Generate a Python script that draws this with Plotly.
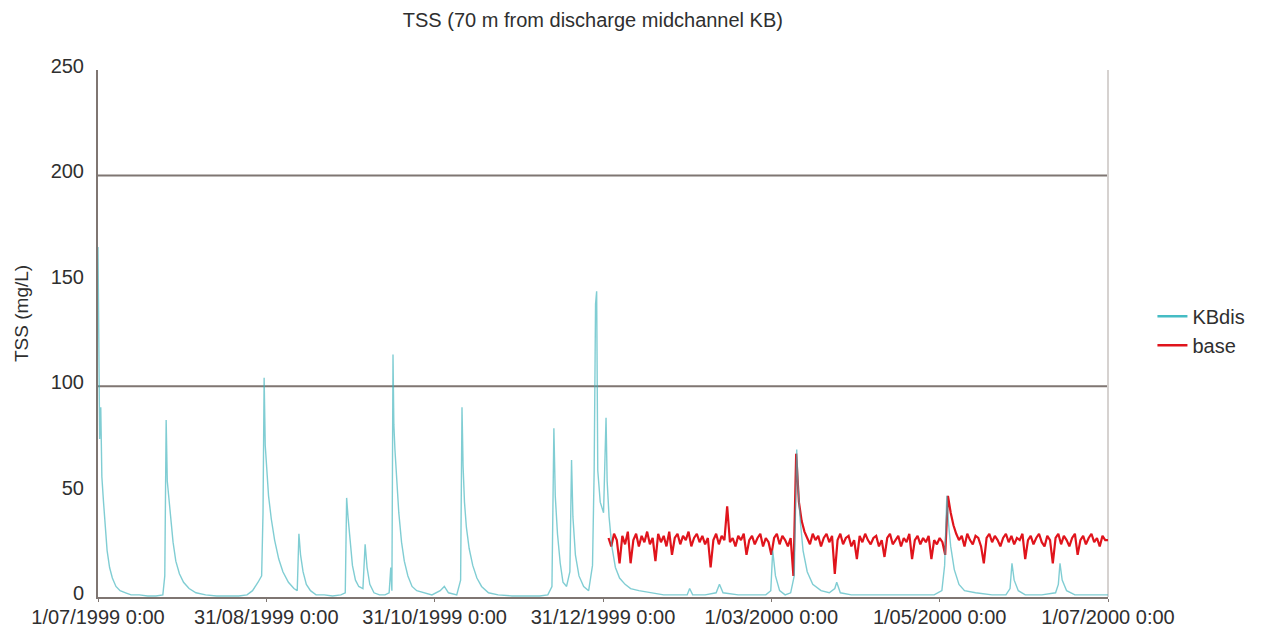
import pandas as pd
import plotly.graph_objects as go

START = "1999-07-01"

# KBdis series: day offsets from 1 July 1999 and TSS values (mg/L)
kb_days = [0, 0.3, 0.6, 1.0, 1.4, 2.0, 2.6, 3.3, 4.2, 5.2, 6.5, 8, 10, 12, 15, 18, 21, 23.5,
           24.2, 24.7, 25.1, 25.6, 26.3, 27.2, 28.2, 29.5, 31, 33, 35.5, 39, 43, 47, 51, 54,
           56, 58, 59.3, 59.8, 60.2, 60.6, 61.1, 61.8, 62.8, 64, 65.5, 67, 69, 71, 72.2,
           72.8, 73.4, 74.3, 75.5, 77, 79, 82, 85, 88, 89.6,
           90.1, 90.6, 91.3, 92.2, 93.3, 94.5, 96, 96.8, 97.5, 98.5, 100, 102, 104, 105.5, 106.1, 106.5,
           106.9, 107.2, 107.6, 108.3, 109, 110, 111, 112.3, 113.8, 115.5, 118, 121, 124, 125.5, 127, 130, 131.4,
           131.9, 132.3, 132.8, 133.5, 134.5, 135.8, 137.3, 139, 141.5, 145, 150, 155, 160, 163, 164.5,
           165.2, 165.7, 166.5, 167.5, 168.5, 169.8, 171, 171.6, 172.1, 173, 174.3, 176, 177.8, 179.2, 179.8,
           180.3, 180.7, 181.1, 182, 183.2, 184.1, 184.5, 185.2, 186.2, 187.5, 189, 191, 193, 196, 200, 205, 210,
           213.5, 214.4, 215.5, 220, 224, 225.2, 226.5, 232, 238, 242, 243.8, 244.5, 245.5, 247, 249, 251, 252.3,
           253.2, 253.7, 254.5, 255.5, 257, 259, 262, 265, 267, 267.7, 269, 273, 280, 290, 298, 303, 305.8, 306.8,
           307.6, 308.2, 309, 310.3, 312, 314, 318, 324, 329, 330.5, 331.2, 332, 333.5, 336, 342, 347, 348, 348.6,
           349.4, 351, 354, 360, 366]
kb_values = [166, 110, 75, 90, 57, 45, 33, 22, 14, 9, 5, 3, 2, 1, 1, 0.5, 0.5, 1,
             10, 84, 55, 48, 38, 26, 17, 11, 7, 4, 2, 1, 0.5, 0.5, 0.5, 1,
             3, 7, 10, 40, 104, 72, 60, 48, 37, 27, 18, 12, 7, 4, 3,
             30, 20, 12, 6, 3, 1, 1, 0.5, 1, 2,
             47, 38, 26, 15, 8, 5, 4, 25, 14, 6, 2, 1, 1, 2, 14, 3,
             115, 82, 70, 55, 40, 26, 17, 10, 5, 3, 2, 1, 3, 5, 2, 1, 8,
             90, 62, 45, 33, 23, 15, 9, 5, 2, 1, 0.5, 0.5, 0.5, 1, 5,
             80, 48, 30, 16, 7, 5, 12, 65, 38, 20, 10, 5, 3, 15, 60,
             139, 145, 60, 45, 40, 85, 55, 38, 24, 14, 9, 6, 4, 3, 2, 1, 1,
             1, 4, 1, 1, 2, 6, 2, 1, 1, 1, 3, 22, 10, 3, 1, 2, 10,
             70, 52, 36, 22, 12, 6, 3, 2, 4, 7, 2, 1, 1, 1, 1, 1, 3, 15,
             48, 35, 24, 13, 6, 3, 2, 1, 1, 4, 16, 8, 3, 1, 1, 2, 6, 16,
             8, 3, 1, 1, 1]

# base series: daily values from 2 Jan 2000 to 1 Jul 2000
base_start = "2000-01-02"
base_values = [28, 24, 30, 27, 16, 29, 25, 31, 16, 27,
               30, 24, 29, 26, 31, 25, 28, 17, 30, 26,
               29, 24, 31, 20, 28, 30, 25, 29, 27, 31,
               24, 28, 30, 26, 29, 25, 28, 14, 27, 30,
               25, 29, 27, 43, 26, 28, 24, 29, 27, 30,
               20, 27, 29, 25, 28, 30, 24, 28, 26, 20,
               28, 30, 25, 29, 27, 24, 28, 10, 68, 45,
               36, 31, 28, 25, 30, 27, 29, 24, 28, 30,
               26, 29, 11, 27, 30, 25, 28, 29, 24, 27,
               18, 29, 26, 30, 27, 25, 28, 29, 24, 27,
               19, 28, 30, 25, 27, 29, 24, 28, 26, 30,
               18, 27, 29, 25, 28, 26, 29, 18, 27, 25,
               28, 26, 20, 48, 40, 34, 30, 27, 29, 24,
               30, 27, 25, 29, 28, 24, 16, 28, 30, 26,
               29, 27, 24, 28, 30, 26, 29, 25, 28, 27,
               30, 18, 27, 29, 25, 28, 30, 26, 24, 29,
               27, 16, 28, 30, 25, 29, 27, 24, 28, 30,
               20, 27, 29, 25, 28, 30, 26, 28, 24, 29,
               27, 27]

tick_dates = ["1999-07-01", "1999-08-31", "1999-10-31", "1999-12-31",
              "2000-03-01", "2000-05-01", "2000-07-01"]
tick_labels = ["1/07/1999 0:00", "31/08/1999 0:00", "31/10/1999 0:00", "31/12/1999 0:00",
               "1/03/2000 0:00", "1/05/2000 0:00", "1/07/2000 0:00"]
y_ticks = [0, 50, 100, 150, 200, 250]
grid_values = [100, 200]

kb_x = pd.Timestamp(START) + pd.to_timedelta(kb_days, unit="D")
base_x = pd.date_range(base_start, periods=len(base_values), freq="D")

KB_COLOR = "#45bcc4"
BASE_COLOR = "#e0141c"
AXIS_COLOR = "#7f7672"
FONT = "Liberation Sans"
TEXT = "#2f2f2f"

fig = go.Figure()
fig.add_trace(go.Scatter(x=base_x, y=base_values, mode="lines",
                         line=dict(color=BASE_COLOR, width=2.2),
                         showlegend=False, hoverinfo="skip"))
fig.add_trace(go.Scatter(x=kb_x, y=kb_values, mode="lines",
                         line=dict(color="rgba(60,178,188,0.65)", width=1.4),
                         showlegend=False, hoverinfo="skip"))
# legend entries
fig.add_trace(go.Scatter(x=[None], y=[None], mode="lines", name="KBdis",
                         line=dict(color=KB_COLOR, width=2.5)))
fig.add_trace(go.Scatter(x=[None], y=[None], mode="lines", name="base",
                         line=dict(color=BASE_COLOR, width=2.5)))

for g in grid_values:
    fig.add_shape(type="line", xref="paper", x0=0, x1=1, yref="y", y0=g, y1=g,
                  line=dict(color=AXIS_COLOR, width=2), layer="below")
fig.add_shape(type="line", xref="paper", x0=1, x1=1, yref="paper", y0=0, y1=1,
              line=dict(color="#d6d2d0", width=2), layer="below")

fig.add_annotation(text="TSS (mg/L)", textangle=-90, xref="paper", x=0, xanchor="center",
                   xshift=-77, yref="paper", y=0.537, yanchor="middle", showarrow=False,
                   font=dict(family=FONT, size=19, color=TEXT))

fig.update_layout(
    width=1263, height=632,
    paper_bgcolor="white", plot_bgcolor="white",
    margin=dict(l=90, r=163, t=62, b=43, autoexpand=False),
    font=dict(family=FONT, size=20, color=TEXT),
    title=dict(text="TSS (70 m from discharge midchannel KB)", x=0.49, xref="paper", xanchor="center",
               y=0.981, yref="container", yanchor="middle",
               font=dict(family=FONT, size=20, color=TEXT)),
    legend=dict(x=1.044, xref="paper", xanchor="left", y=0.505, yanchor="middle",
                font=dict(family=FONT, size=20, color=TEXT),
                bgcolor="rgba(0,0,0,0)", tracegroupgap=0),
    xaxis=dict(range=[tick_dates[0], tick_dates[-1]], tickvals=tick_dates, ticktext=tick_labels,
               showgrid=False, zeroline=False, showline=True, linecolor=AXIS_COLOR, linewidth=2,
               ticks="outside", ticklen=3, tickcolor=AXIS_COLOR, tickfont=dict(size=20),
               ticklabelstandoff=-2, automargin=False),
    yaxis=dict(range=[0, 250], tickvals=y_ticks, showgrid=False, zeroline=False,
               showline=True, linecolor=AXIS_COLOR, linewidth=2, ticks="", ticklabelstandoff=8,
               ticklabelshift=-4, tickfont=dict(size=20), automargin=False),
)

fig.write_html("out.html")
